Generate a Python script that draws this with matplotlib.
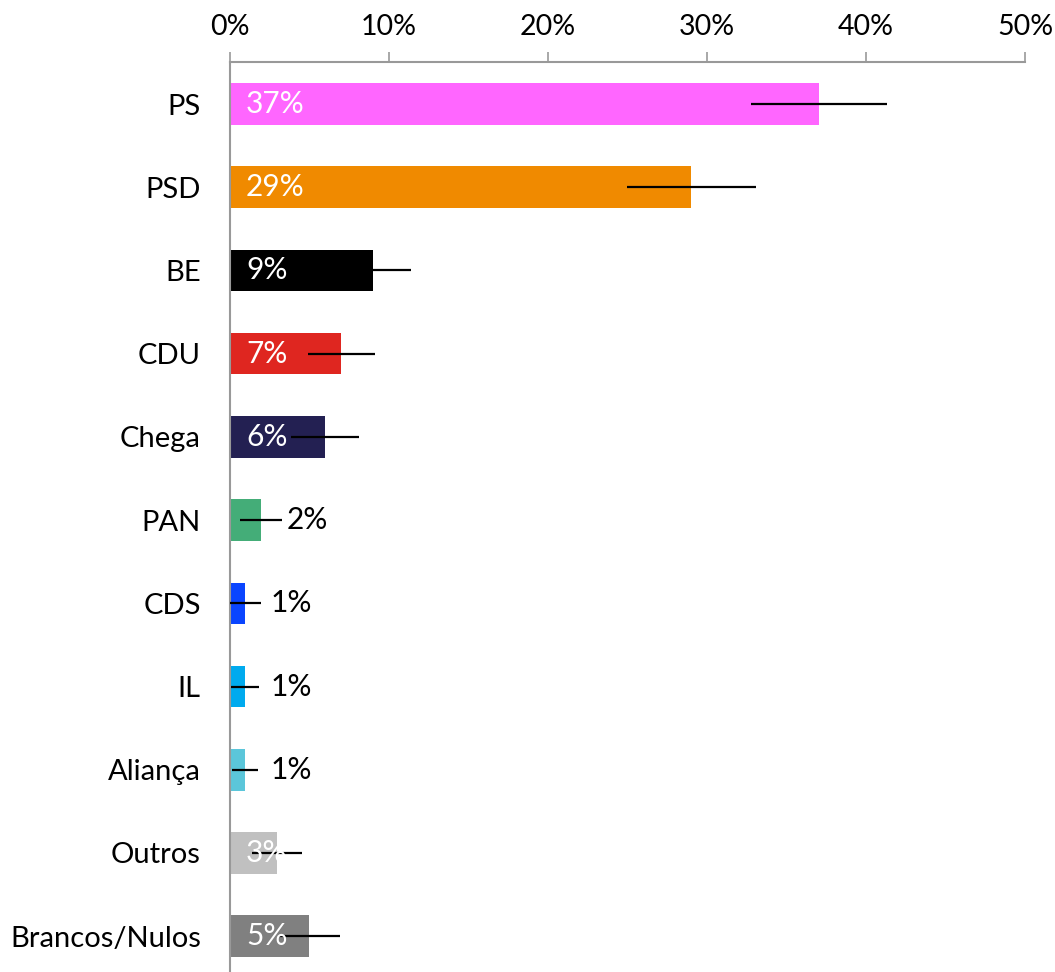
import matplotlib.pyplot as plt
from matplotlib.ticker import FuncFormatter

plt.rcParams['font.family'] = ['Lato', 'DejaVu Sans']

partidos = ['PS', 'PSD', 'BE', 'CDU', 'Chega', 'PAN', 'CDS', 'IL', 'Aliança', 'Outros', 'Brancos/Nulos']
valores = [37.05, 29.0, 9.0, 7.0, 6.0, 1.95, 0.95, 0.95, 0.95, 2.95, 4.95]
erros = [4.28, 4.06, 2.4, 2.1, 2.14, 1.29, 0.97, 0.88, 0.8, 1.57, 1.95]
rotulos = ['37%', '29%', '9%', '7%', '6%', '2%', '1%', '1%', '1%', '3%', '5%']
dentro = [True, True, True, True, True, False, False, False, False, True, True]
cores = ['#FF66FF', '#F08A00', '#000000', '#DF2620', '#232052', '#44AD78',
         '#0A45FF', '#00AAEE', '#5BC6DA', '#C0C0C0', '#808080']

fig = plt.figure(figsize=(10.55, 9.72), dpi=100)
ax = fig.add_axes([230/1055, 0, 795/1055, 910/972])

y = list(range(len(partidos)))
ax.barh(y, valores, height=0.5, color=cores, zorder=2)

for i in range(len(partidos)):
    ax.plot([valores[i] - erros[i], valores[i] + erros[i]], [y[i], y[i]],
            color='black', lw=1.6, zorder=3, solid_capstyle='butt')
    if dentro[i]:
        ax.text(1.0, y[i], rotulos[i], color='white', fontsize=21.5,
                ha='left', va='center', zorder=4)
    else:
        ax.text(valores[i] + 1.6, y[i], rotulos[i], color='black', fontsize=21.5,
                ha='left', va='center', zorder=4)

ax.set_xlim(0, 50)
ax.set_ylim(10.43, -0.505)
ax.set_xticks([0, 10, 20, 30, 40, 50])
ax.xaxis.set_major_formatter(FuncFormatter(lambda v, p: '%d%%' % v))
ax.xaxis.tick_top()
ax.set_yticks(y)
ax.set_yticklabels(partidos, fontsize=21)

ax.tick_params(axis='x', length=7, width=1.2, color='#999999', labelsize=20.5, pad=9)
ax.tick_params(axis='y', length=0, pad=21)

for s in ['right', 'bottom']:
    ax.spines[s].set_visible(False)
for s in ['top', 'left']:
    ax.spines[s].set_color('#999999')
    ax.spines[s].set_linewidth(1.5)

fig.savefig('out.png', dpi=100)
